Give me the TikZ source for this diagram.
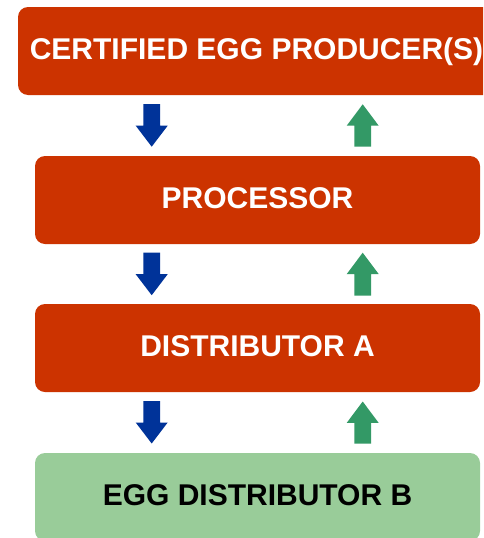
\documentclass[tikz,border=0pt]{standalone}
\usepackage{fontspec}
\setmainfont{Liberation Sans}
\definecolor{boxred}{HTML}{CC3300}
\definecolor{boxgreen}{HTML}{99CC99}
\definecolor{arrblue}{HTML}{003399}
\definecolor{arrgreen}{HTML}{339966}
% block arrow pointing down: x, ytop, ytip
\newcommand\blockdown[3]{%
  \fill[arrblue] (#1-8.35,#2) -- (#1+8.35,#2) -- (#1+8.35,#3-21) -- (#1+16,#3-21)
    -- (#1,#3) -- (#1-16,#3-21) -- (#1-8.35,#3-21) -- cycle;}
% block arrow pointing up: x, ytip, ybottom
\newcommand\blockup[3]{%
  \fill[arrgreen] (#1,#2) -- (#1+16,#2+21.4) -- (#1+8.35,#2+21.4) -- (#1+8.35,#3)
    -- (#1-8.35,#3) -- (#1-8.35,#2+21.4) -- (#1-16,#2+21.4) -- cycle;}
\begin{document}
\begin{tikzpicture}[x=1pt,y=-1pt,
  stage/.style={rounded corners=10pt, minimum height=88pt, inner sep=0pt,
    font=\fontsize{30}{36}\selectfont\bfseries, text height=21.5pt, text depth=4pt},
  redstage/.style={stage, fill=boxred, text=white, minimum width=445pt},
  greenstage/.style={stage, fill=boxgreen, text=black, minimum width=445pt}]
\clip (0,0) rectangle (483,538);
\fill[white] (0,0) rectangle (483,538);
\node[redstage, minimum width=477pt] (prod) at (256.5,51) {CERTIFIED EGG PRODUCER(S)};
\node[redstage] (proc) at (257.5,200) {PROCESSOR};
\node[redstage] (dista) at (257.5,348) {DISTRIBUTOR A};
\node[greenstage] (distb) at (257.5,497) {EGG DISTRIBUTOR B};
\blockdown{151.7}{104}{146.7}
\blockup{362.7}{104.3}{146.7}
\blockdown{151.7}{252.7}{295.2}
\blockup{362.7}{252.7}{295.5}
\blockdown{151.7}{401}{443.5}
\blockup{362.7}{401.5}{443.7}
\end{tikzpicture}
\end{document}
